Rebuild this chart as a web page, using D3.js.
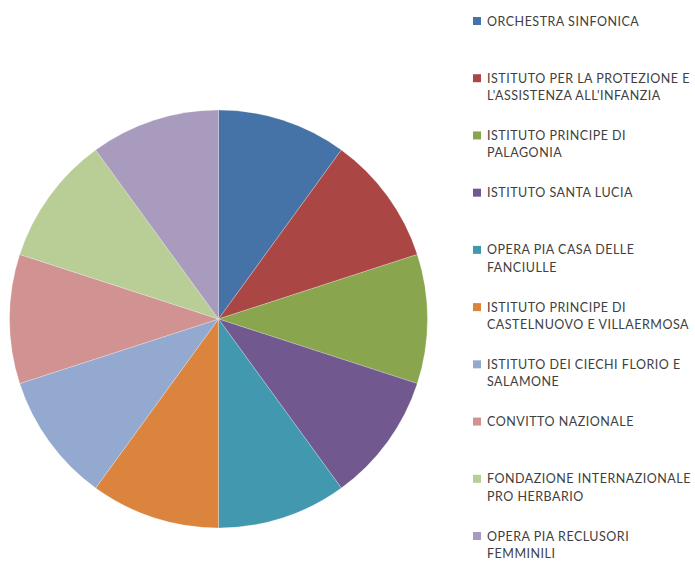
<!DOCTYPE html>
<html>
<head>
<meta charset="utf-8">
<script src="https://cdn.jsdelivr.net/npm/d3@7"></script>
<style>
  html, body { margin: 0; padding: 0; background: #fff; }
  svg { display: block; }
</style>
</head>
<body>
<svg id="chart" width="695" height="562"></svg>
<script>
const categories = [
  "ORCHESTRA SINFONICA",
  "ISTITUTO PER LA PROTEZIONE E L'ASSISTENZA ALL'INFANZIA",
  "ISTITUTO PRINCIPE DI PALAGONIA",
  "ISTITUTO SANTA LUCIA",
  "OPERA PIA CASA DELLE FANCIULLE",
  "ISTITUTO PRINCIPE DI CASTELNUOVO E VILLAERMOSA",
  "ISTITUTO DEI CIECHI FLORIO E SALAMONE",
  "CONVITTO NAZIONALE",
  "FONDAZIONE INTERNAZIONALE PRO HERBARIO",
  "OPERA PIA RECLUSORI FEMMINILI"
];
const legendLines = [
  ["ORCHESTRA SINFONICA"],
  ["ISTITUTO PER LA PROTEZIONE E", "L'ASSISTENZA ALL'INFANZIA"],
  ["ISTITUTO PRINCIPE DI", "PALAGONIA"],
  ["ISTITUTO SANTA LUCIA"],
  ["OPERA PIA CASA DELLE", "FANCIULLE"],
  ["ISTITUTO PRINCIPE DI", "CASTELNUOVO E VILLAERMOSA"],
  ["ISTITUTO DEI CIECHI FLORIO E", "SALAMONE"],
  ["CONVITTO NAZIONALE"],
  ["FONDAZIONE INTERNAZIONALE", "PRO HERBARIO"],
  ["OPERA PIA RECLUSORI", "FEMMINILI"]
];
const values = [1, 1, 1, 1, 1, 1, 1, 1, 1, 1];
const colors = ["#4572A7", "#AA4643", "#89A54E", "#71588F", "#4198AF",
                "#DB843D", "#93A9CF", "#D19392", "#B9CD96", "#A99BBD"];

const svg = d3.select("#chart");
const cx = 218.5, cy = 319, r = 209;

const color = d3.scaleOrdinal().domain(categories).range(colors);
const pie = d3.pie().sort(null).value(d => d.value);
const arc = d3.arc().innerRadius(0).outerRadius(r);
const data = categories.map((c, i) => ({ name: c, value: values[i], lines: legendLines[i] }));

svg.append("g")
  .attr("transform", `translate(${cx},${cy})`)
  .selectAll("path")
  .data(pie(data))
  .join("path")
  .attr("d", arc)
  .attr("fill", d => color(d.data.name))
  .attr("stroke", "#ffffff")
  .attr("stroke-width", 0.4)
  .attr("stroke-opacity", 0.6);

const legendY = d3.scalePoint().domain(categories).range([21, 536]);
const lineH = 17.5;

const leg = svg.append("g")
  .selectAll("g")
  .data(data)
  .join("g")
  .attr("transform", d => `translate(0,${legendY(d.name)})`);

leg.append("rect")
  .attr("x", 473).attr("y", -4)
  .attr("width", 8).attr("height", 8)
  .attr("fill", d => color(d.name));

leg.append("text")
  .attr("x", 487)
  .attr("y", 0)
  .attr("font-family", "Lato, 'Open Sans', sans-serif")
  .attr("font-size", 12.5)
  .attr("letter-spacing", 0.5)
  .attr("fill", "#404040")
  .selectAll("tspan")
  .data(d => d.lines)
  .join("tspan")
  .attr("x", 487)
  .attr("dy", (d, i) => i === 0 ? "0.36em" : lineH)
  .text(d => d);
</script>
</body>
</html>
